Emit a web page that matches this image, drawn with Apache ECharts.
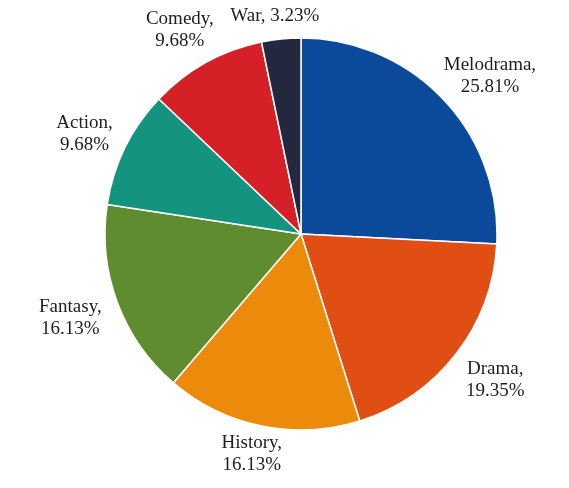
<!DOCTYPE html>
<html>
<head>
<meta charset="utf-8">
<script src="https://cdn.jsdelivr.net/npm/echarts@6/dist/echarts.min.js"></script>
<style>
html,body{margin:0;padding:0;background:#fff;}
#chart{width:569px;height:488px;}
</style>
</head>
<body>
<div id="chart"></div>
<script>
var categories = ['Melodrama', 'Drama', 'History', 'Fantasy', 'Action', 'Comedy', 'War'];
var values = [25.81, 19.35, 16.13, 16.13, 9.68, 9.68, 3.23];
var colors = ['#0B4A9B', '#E04E14', '#EC8A0C', '#5E8C2E', '#14947F', '#D42026', '#23283E'];

// label placement styling (distance from the pie edge and small nudges)
var labelGap = { Melodrama: 44, Drama: 47, History: 29, Fantasy: 50, Action: 44, Comedy: 39, War: 23 };
var labelNudge = { Melodrama: [15, 7], Drama: [2, -3], History: [-4, 0], Fantasy: [0, -2], Action: [-1, 6], Comedy: [-7, 1], War: [-4, 0] };

var chart = echarts.init(document.getElementById('chart'));
var pieData = categories.map(function (c, i) {
  return {
    name: c,
    value: values[i],
    itemStyle: { color: colors[i] },
    labelLine: { length: labelGap[c], length2: 0 }
  };
});
chart.setOption({
  animation: false,
  backgroundColor: '#ffffff',
  series: [
    {
      type: 'pie',
      center: [301, 234],
      radius: [0, 196],
      startAngle: 90,
      clockwise: true,
      silent: true,
      avoidLabelOverlap: false,
      itemStyle: { borderColor: '#ffffff', borderWidth: 1.5 },
      label: {
        show: true,
        position: 'outside',
        fontFamily: 'Liberation Serif, Times New Roman, serif',
        fontSize: 19,
        lineHeight: 22,
        color: '#1e1e1e',
        formatter: function (p) {
          var v = p.value.toFixed(2) + '%';
          return p.name === 'War' ? p.name + ', ' + v : p.name + ',\n' + v;
        }
      },
      labelLine: { show: true, lineStyle: { width: 0, opacity: 0 } },
      labelLayout: function (params) {
        var pts = params.labelLinePoints;
        var name = categories[params.dataIndex];
        var n = labelNudge[name] || [0, 0];
        if (!pts) return {};
        return {
          x: pts[1][0] + n[0],
          y: pts[1][1] + n[1],
          align: 'center',
          verticalAlign: 'middle'
        };
      },
      data: pieData
    }
  ]
});
</script>
</body>
</html>
